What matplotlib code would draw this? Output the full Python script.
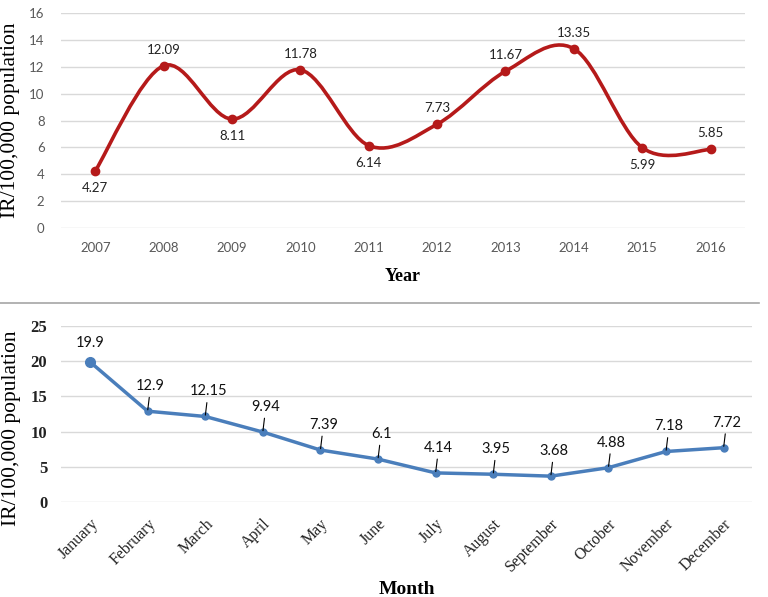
import matplotlib
matplotlib.use("Agg")
import matplotlib.pyplot as plt
import numpy as np
from matplotlib.path import Path
from matplotlib.patches import PathPatch
from matplotlib.lines import Line2D

years = ["2007", "2008", "2009", "2010", "2011", "2012", "2013", "2014", "2015", "2016"]
year_rates = [4.27, 12.09, 8.11, 11.78, 6.14, 7.73, 11.67, 13.35, 5.99, 5.85]
year_label_below = [True, False, True, False, True, False, False, False, True, False]

months = ["January", "February", "March", "April", "May", "June", "July",
          "August", "September", "October", "November", "December"]
month_rates = [19.9, 12.9, 12.15, 9.94, 7.39, 6.1, 4.14, 3.95, 3.68, 4.88, 7.18, 7.72]

RED = "#B51A1A"
BLUE = "#4A7EBB"
GRID = "#D9D9D9"
TICK = "#595959"
SANS = ["Lato", "DejaVu Sans"]
SERIF = ["Liberation Serif", "DejaVu Serif"]

fig = plt.figure(figsize=(7.68, 5.97), dpi=100)

# ---------- top panel ----------
ax1 = fig.add_axes([0.0797, 0.618, 0.890, 0.360])
x1 = np.arange(len(years))
y1 = np.array(year_rates)

# smooth (Catmull-Rom style bezier) line through the data points
verts = [(x1[0], y1[0])]
codes = [Path.MOVETO]
n = len(x1)
for i in range(n - 1):
    p0 = np.array([x1[max(i - 1, 0)], y1[max(i - 1, 0)]])
    p1 = np.array([x1[i], y1[i]])
    p2 = np.array([x1[i + 1], y1[i + 1]])
    p3 = np.array([x1[min(i + 2, n - 1)], y1[min(i + 2, n - 1)]])
    c1 = p1 + (p2 - p0) / 6.0
    c2 = p2 - (p3 - p1) / 6.0
    verts += [tuple(c1), tuple(c2), tuple(p2)]
    codes += [Path.CURVE4, Path.CURVE4, Path.CURVE4]
ax1.add_patch(PathPatch(Path(verts, codes), facecolor="none", edgecolor=RED,
                        lw=2.6, zorder=3, capstyle="round", joinstyle="round"))
ax1.plot(x1, y1, linestyle="none", marker="o", ms=6, color=RED, zorder=4)

for xi, yi, below in zip(x1, y1, year_label_below):
    ax1.annotate(f"{yi:.2f}", (xi, yi), xytext=(0, -11 if below else 10),
                 textcoords="offset pixels", ha="center",
                 va="top" if below else "bottom", fontsize=9.5,
                 family=SANS, color="#222222")

ax1.set_xlim(-0.5, len(years) - 0.5)
ax1.set_ylim(0, 16)
ax1.set_yticks(range(0, 17, 2))
ax1.set_xticks(x1)
ax1.set_xticklabels(years)
ax1.grid(axis="y", color=GRID, lw=1)
ax1.set_axisbelow(True)
for s in ax1.spines.values():
    s.set_visible(False)
ax1.tick_params(length=0, labelsize=9.5, colors=TICK, pad=12)
ax1.tick_params(axis="x", pad=10)
for lab in ax1.get_xticklabels() + ax1.get_yticklabels():
    lab.set_family(SANS)
ax1.set_xlabel("Year", family=SERIF, fontsize=13, fontweight="bold", labelpad=10)
ax1.set_ylabel("IR/100,000 population", family=SERIF, fontsize=15.5)
ax1.yaxis.set_label_coords(-0.061, 0.5)

# separator line
fig.add_artist(Line2D([0.0, 0.988], [0.493, 0.493], transform=fig.transFigure,
                      color="#A6A6A6", lw=1.2))

# ---------- bottom panel ----------
ax2 = fig.add_axes([0.0797, 0.159, 0.900, 0.295])
x2 = np.arange(len(months))
y2 = np.array(month_rates)
ax2.plot(x2, y2, color=BLUE, lw=2.5, marker="o", ms=5, zorder=3)
ax2.plot(x2[:1], y2[:1], color=BLUE, marker="o", ms=7, linestyle="none", zorder=4)

for i, (xi, yi) in enumerate(zip(x2, y2)):
    if i == 0:
        ax2.annotate(f"{yi:g}", (xi, yi), xytext=(0, 12), textcoords="offset pixels",
                     ha="center", va="bottom", fontsize=10.5, family=SANS, color="#111111")
    else:
        ax2.annotate(f"{yi:g}", (xi, yi), xytext=(3, 18), textcoords="offset pixels",
                     ha="center", va="bottom", fontsize=10.5, family=SANS, color="#111111",
                     arrowprops=dict(arrowstyle="-", color="black", lw=0.8,
                                     shrinkA=1, shrinkB=1))

ax2.set_xlim(-0.5, len(months) - 0.5)
ax2.set_ylim(0, 25)
ax2.set_yticks(range(0, 26, 5))
ax2.set_xticks(x2)
ax2.set_xticklabels(months, rotation=45, ha="right", rotation_mode="anchor",
                    family=SERIF, fontsize=11.5)
ax2.grid(axis="y", color=GRID, lw=1)
ax2.set_axisbelow(True)
for s in ax2.spines.values():
    s.set_visible(False)
ax2.tick_params(length=0, colors="#222222")
ax2.tick_params(axis="x", pad=10)
ax2.tick_params(axis="y", pad=10)
for lab in ax2.get_yticklabels():
    lab.set_family(SERIF)
    lab.set_fontweight("bold")
    lab.set_fontsize(12)
ax2.set_xlabel("Month", family=SERIF, fontsize=14, fontweight="bold", labelpad=4)
ax2.set_ylabel("IR/100,000 population", family=SERIF, fontsize=15.5)
ax2.yaxis.set_label_coords(-0.058, 0.42)

fig.savefig("out.png", dpi=100)
